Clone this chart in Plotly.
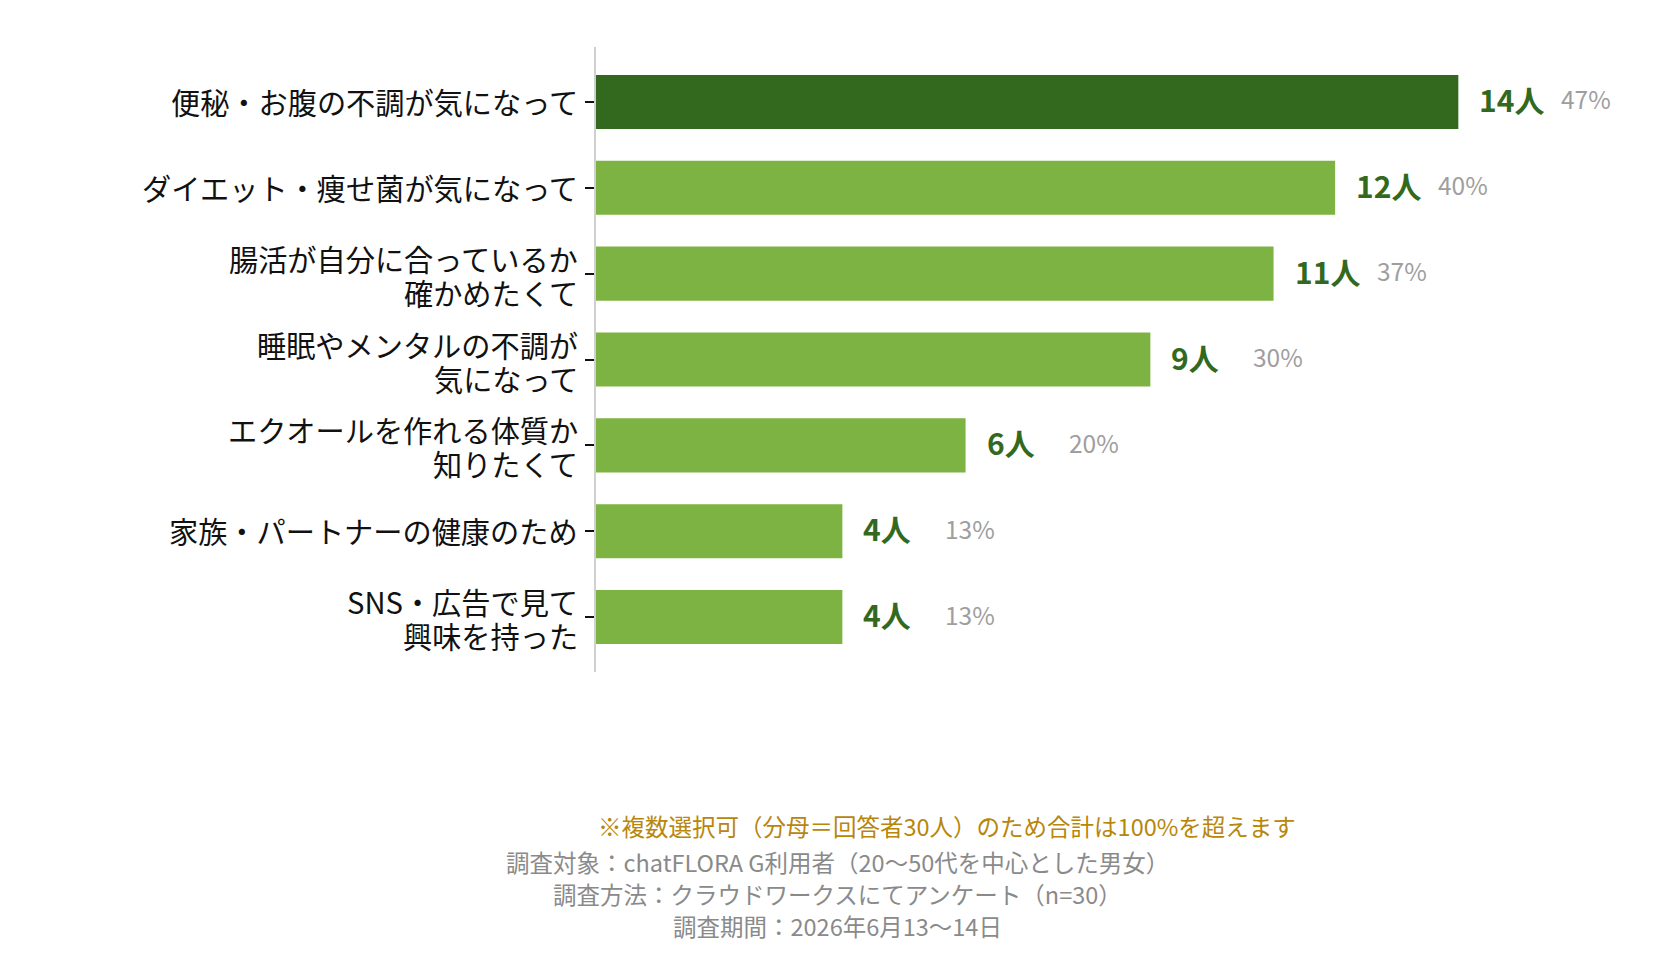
import plotly.graph_objects as go

categories = [
    "便秘・お腹の不調が気になって",
    "ダイエット・痩せ菌が気になって",
    "腸活が自分に合っているか<br>確かめたくて",
    "睡眠やメンタルの不調が<br>気になって",
    "エクオールを作れる体質か<br>知りたくて",
    "家族・パートナーの健康のため",
    "SNS・広告で見て<br>興味を持った",
]
counts = [14, 12, 11, 9, 6, 4, 4]
percents = ["47%", "40%", "37%", "30%", "20%", "13%", "13%"]
note = "※複数選択可（分母＝回答者30人）のため合計は100%を超えます"
survey_lines = [
    "調査対象：chatFLORA G利用者（20〜50代を中心とした男女）",
    "調査方法：クラウドワークスにてアンケート（n=30）",
    "調査期間：2026年6月13〜14日",
]

FONT = "Noto Sans CJK JP"
DARK = "#33691e"
LIGHT = "#7cb342"
colors = [DARK] + [LIGHT] * (len(counts) - 1)

W, H = 1680, 960
ML, MR, MT, MB = 596, 80, 47, 288
PW = W - ML - MR
PH = H - MT - MB


def px(x):
    return (x - ML) / PW


def py(y):
    return (H - MB - y) / PH


fig = go.Figure(go.Bar(
    x=counts, y=categories, orientation="h",
    marker=dict(color=colors, line=dict(width=0)),
    hoverinfo="skip",
))

for c, v, p in zip(categories, counts, percents):
    fig.add_annotation(x=v, y=c, text=f"<b>{v}人</b>", showarrow=False,
                       xanchor="left", yanchor="middle", xshift=19, yshift=3,
                       font=dict(family=FONT, size=30, color=DARK))
    fig.add_annotation(x=v, y=c, text=p, showarrow=False,
                       xanchor="left", yanchor="middle", xshift=101, yshift=3,
                       font=dict(family=FONT, size=24.5, color="#9e9e9e"))
    # category label lines
    lines = c.split("<br>")
    shifts = [1] if len(lines) == 1 else [16, -18]
    for ln, s in zip(lines, shifts):
        fig.add_annotation(xref="paper", x=0, y=c, text=ln, showarrow=False,
                           xanchor="right", yanchor="middle", xshift=-17, yshift=s,
                           borderpad=0,
                           font=dict(family=FONT, size=29.2, color="#111111"))

fig.add_annotation(xref="paper", yref="paper", x=px(947), y=py(826),
                   text=note, showarrow=False, xanchor="center", yanchor="middle",
                   font=dict(family=FONT, size=23.5, color="#b8860b"))
for ln, yy in zip(survey_lines, [862, 894, 926]):
    fig.add_annotation(xref="paper", yref="paper", x=px(837), y=py(yy),
                       text=ln, showarrow=False, xanchor="center", yanchor="middle",
                       font=dict(family=FONT, size=23.5, color="#8a8a8a"))

fig.update_layout(
    width=W, height=H,
    margin=dict(l=ML, r=MR, t=MT, b=MB),
    paper_bgcolor="white", plot_bgcolor="white",
    bargap=0.37,
    showlegend=False,
    font=dict(family=FONT, size=28, color="#111111"),
    xaxis=dict(range=[0, 16.3], showgrid=False, zeroline=False, showticklabels=False,
               showline=False, ticks=""),
    yaxis=dict(categoryorder="array", categoryarray=categories,
               range=[6.64, -0.64], showgrid=False, zeroline=False,
               showline=True, linecolor="#d0d0d0", linewidth=2,
               ticks="outside", ticklen=9, tickwidth=2, tickcolor="#111111",
               showticklabels=False),
)

fig.write_html("out.html")
